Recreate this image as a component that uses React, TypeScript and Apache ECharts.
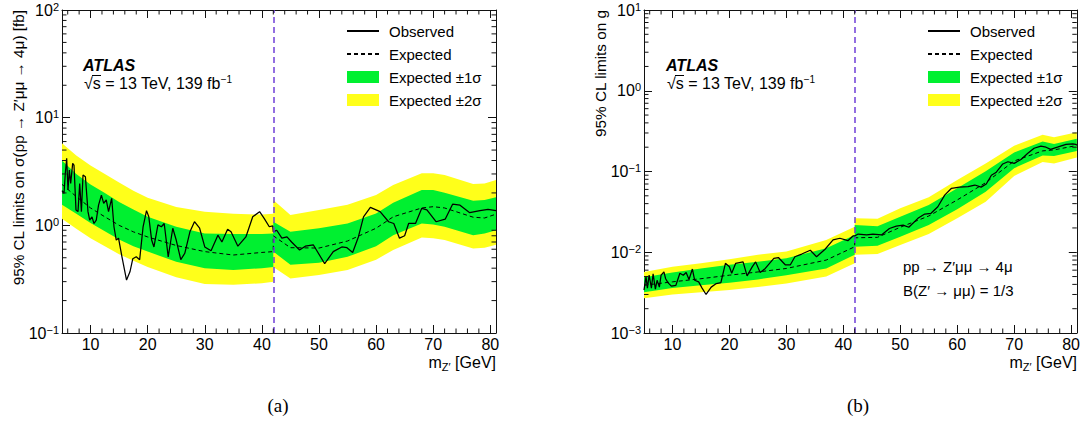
import React, { useEffect, useRef } from 'react';
import * as echarts from 'echarts';

const FONT = 'Liberation Sans, Arial, Helvetica, sans-serif';
const GREEN = '#00f030';
const YELLOW = '#ffff1a';
const CUT_COLOR = '#6f3fd8';
const CUT_MASS = 42;
const X_MIN = 5;
const X_MAX = 81;

const xTickValues = [10, 20, 30, 40, 50, 60, 70, 80];
const xMinorTicks = [6, 8, 12, 14, 16, 18, 22, 24, 26, 28, 32, 34, 36, 38, 42, 44, 46, 48, 52, 54, 56, 58, 62, 64, 66, 68, 72, 74, 76, 78];

// ---------- Panel (a): cross-section limits [fb] ----------
const massA = [5, 7.5, 10, 12.5, 15, 17.5, 20, 25, 30, 35, 40, 42, 42, 45, 50, 55, 60, 63, 68, 70, 72, 77, 79, 81];
const expA = [2.4, 1.85, 1.45, 1.2, 1.0, 0.87, 0.78, 0.65, 0.57, 0.53, 0.56, 0.57, 0.8, 0.62, 0.615, 0.715, 0.94, 1.2, 1.45, 1.49, 1.45, 1.19, 1.17, 1.27];
const up1A = [4.0, 3.0, 2.4, 2.0, 1.65, 1.4, 1.2, 0.97, 0.84, 0.83, 0.83, 0.84, 1.08, 0.87, 0.94, 1.04, 1.29, 1.62, 2.13, 2.13, 2.01, 1.69, 1.72, 1.82];
const dn1A = [1.55, 1.28, 1.05, 0.88, 0.74, 0.64, 0.57, 0.46, 0.4, 0.385, 0.4, 0.41, 0.57, 0.43, 0.45, 0.51, 0.64, 0.81, 1.04, 1.02, 0.97, 0.81, 0.84, 0.9];
const up2A = [5.8, 4.45, 3.6, 3.0, 2.5, 2.1, 1.8, 1.48, 1.34, 1.28, 1.26, 1.28, 1.72, 1.25, 1.39, 1.55, 1.91, 2.37, 3.04, 3.04, 2.93, 2.42, 2.45, 2.64];
const dn2A = [1.15, 0.93, 0.76, 0.64, 0.54, 0.47, 0.41, 0.33, 0.285, 0.28, 0.29, 0.3, 0.41, 0.32, 0.345, 0.385, 0.48, 0.59, 0.77, 0.76, 0.73, 0.61, 0.62, 0.66];
const obsMassA = [5.0, 5.35, 5.58, 5.82, 6.05, 6.28, 6.52, 6.87, 7.1, 7.45, 7.8, 8.1, 8.4, 8.68, 9.1, 9.55, 9.85, 10.25, 10.6, 11.0, 11.4, 11.9, 12.3, 12.75, 13.15, 13.7, 14.1, 14.5, 14.9, 15.5, 16.3, 16.9, 17.4, 18.0, 18.6, 19.2, 19.8, 20.2, 20.7, 21.1, 21.8, 22.4, 22.9, 23.6, 24.4, 25.0, 25.8, 26.5, 27.4, 28.2, 29.1, 30.0, 31.1, 32.3, 33.0, 34.0, 34.6, 35.8, 37.2, 38.4, 39.6, 40.4, 41.3, 41.9, 42.0, 42.6, 43.5, 44.4, 45.2, 46.6, 47.6, 49.0, 51.0, 52.5, 54.0, 54.9, 55.9, 56.9, 57.8, 59.0, 60.7, 62.2, 63.1, 64.1, 65.0, 65.7, 66.9, 68.0, 68.9, 70.5, 72.1, 73.4, 74.7, 76.4, 78.2, 79.6, 81.0];
const obsValA = [2.1, 1.98, 3.04, 4.19, 2.13, 3.26, 2.45, 3.76, 3.63, 1.39, 1.34, 2.45, 1.34, 2.93, 2.83, 1.34, 1.12, 1.2, 1.04, 1.12, 1.54, 1.91, 1.6, 1.72, 1.34, 1.78, 0.97, 0.73, 0.76, 0.51, 0.31, 0.37, 0.49, 0.51, 0.48, 0.97, 1.37, 1.2, 0.73, 0.63, 1.01, 0.97, 1.04, 0.51, 0.94, 0.73, 0.48, 0.55, 0.87, 1.08, 0.94, 0.63, 0.58, 0.81, 0.7, 0.92, 0.87, 0.64, 0.78, 1.2, 1.34, 1.16, 0.97, 0.99, 0.87, 0.9, 0.76, 0.78, 0.7, 0.59, 0.64, 0.66, 0.44, 0.57, 0.63, 0.62, 0.56, 0.78, 1.2, 1.47, 1.34, 1.08, 1.04, 0.76, 0.8, 1.04, 1.04, 1.44, 1.39, 1.08, 1.14, 1.57, 1.54, 1.31, 1.37, 1.41, 1.37];

// ---------- Panel (b): coupling limits g ----------
const massB = [5, 10, 15, 20, 25, 30, 37, 42, 42, 46, 50, 55, 60, 65, 70, 75, 77, 81];
const expB = [0.0039, 0.0043, 0.0047, 0.0052, 0.0057, 0.0063, 0.008, 0.0117, 0.0151, 0.0153, 0.0204, 0.0281, 0.0444, 0.0727, 0.135, 0.18, 0.185, 0.21];
const up1B = [0.0049, 0.0056, 0.0063, 0.007, 0.0076, 0.0084, 0.0112, 0.0164, 0.0217, 0.021, 0.0275, 0.0385, 0.062, 0.101, 0.172, 0.235, 0.219, 0.254];
const dn1B = [0.0032, 0.0036, 0.0039, 0.0042, 0.0046, 0.0052, 0.0063, 0.0093, 0.0117, 0.012, 0.0156, 0.0217, 0.034, 0.0562, 0.11, 0.158, 0.156, 0.18];
const up2B = [0.0057, 0.0066, 0.0073, 0.0082, 0.0093, 0.0102, 0.0142, 0.0207, 0.0263, 0.026, 0.035, 0.048, 0.0785, 0.126, 0.208, 0.286, 0.265, 0.307];
const dn2B = [0.0027, 0.003, 0.0032, 0.0034, 0.0037, 0.0041, 0.005, 0.0073, 0.0093, 0.0095, 0.0123, 0.0168, 0.0263, 0.0423, 0.088, 0.131, 0.126, 0.149];
const obsMassB = [5, 5.35, 5.6, 5.9, 6.3, 6.6, 7.0, 7.3, 7.7, 8.0, 8.5, 8.8, 9.2, 9.8, 10.6, 11.3, 11.9, 12.4, 12.9, 13.5, 13.9, 14.6, 15.2, 15.9, 16.8, 17.7, 18.5, 19.3, 20.0, 20.4, 21.1, 22.4, 23.1, 24.0, 24.6, 25.4, 26.3, 27.8, 28.6, 29.8, 30.7, 31.5, 32.7, 34.2, 35.3, 36.8, 38.2, 39.4, 40.8, 41.7, 42.0, 42.6, 44.1, 45.2, 46.7, 48.1, 49.3, 50.5, 51.5, 53.1, 54.3, 55.4, 56.6, 57.8, 59.0, 60.4, 61.9, 63.1, 64.2, 65.1, 66.0, 66.8, 68.0, 68.9, 70.0, 71.2, 72.4, 73.5, 74.7, 75.6, 76.4, 77.6, 79.1, 80.3, 81.0];
const obsValB = [0.0034, 0.005, 0.0036, 0.0052, 0.0036, 0.0054, 0.0035, 0.0045, 0.0037, 0.0052, 0.0057, 0.0047, 0.0042, 0.0038, 0.0039, 0.0055, 0.0052, 0.0056, 0.0046, 0.0062, 0.0045, 0.0043, 0.0036, 0.003, 0.0037, 0.0041, 0.0042, 0.0073, 0.0066, 0.0055, 0.0073, 0.0076, 0.0051, 0.0066, 0.0076, 0.0056, 0.0063, 0.0084, 0.0086, 0.007, 0.007, 0.0088, 0.0095, 0.0106, 0.0088, 0.0109, 0.0142, 0.0149, 0.0139, 0.0159, 0.0159, 0.0168, 0.0164, 0.0168, 0.0164, 0.0197, 0.0211, 0.0217, 0.0204, 0.0263, 0.0297, 0.0304, 0.0366, 0.051, 0.062, 0.064, 0.065, 0.068, 0.064, 0.07, 0.09, 0.097, 0.124, 0.132, 0.126, 0.141, 0.168, 0.194, 0.206, 0.2, 0.188, 0.2, 0.217, 0.22, 0.215];

const legendNames = ['Observed', 'Expected', 'Expected ±1σ', 'Expected ±2σ'];

function logMinorTicks(minExp: number, maxExp: number): number[] {
  const out: number[] = [];
  for (let e = minExp; e < maxExp; e++) {
    for (let k = 2; k <= 9; k++) out.push(k * Math.pow(10, e));
  }
  return out;
}

const zip = (a: number[], b: number[]) => a.map((v, i) => [v, b[i]]);

function bandSeries(name: string, xs: number[], lo: number[], hi: number[], color: string, xi: number, yi: number, z: number) {
  return {
    type: 'custom',
    name,
    xAxisIndex: xi,
    yAxisIndex: yi,
    silent: true,
    z,
    clip: true,
    itemStyle: { color },
    data: [[xs[0], lo[0]]],
    renderItem: (_p: any, api: any) => {
      const pts: number[][] = [];
      for (let i = 0; i < xs.length; i++) pts.push(api.coord([xs[i], hi[i]]));
      for (let i = xs.length - 1; i >= 0; i--) pts.push(api.coord([xs[i], lo[i]]));
      return { type: 'polygon', shape: { points: pts }, style: { fill: color, stroke: null } };
    },
  };
}

function minorTickSeries(xi: number, yi: number, yMin: number, yMinor: number[]) {
  return {
    type: 'custom',
    xAxisIndex: xi,
    yAxisIndex: yi,
    silent: true,
    clip: false,
    z: 10,
    data: [[X_MIN, yMin]],
    renderItem: (params: any, api: any) => {
      const cs = params.coordSys;
      const children: any[] = [];
      const st = { stroke: '#111', lineWidth: 1 };
      const L = 4.5;
      yMinor.forEach((v) => {
        const y = api.coord([X_MIN, v])[1];
        children.push({ type: 'line', shape: { x1: cs.x, y1: y, x2: cs.x + L, y2: y }, style: st });
        children.push({ type: 'line', shape: { x1: cs.x + cs.width, y1: y, x2: cs.x + cs.width - L, y2: y }, style: st });
      });
      xMinorTicks.forEach((m) => {
        const x = api.coord([m, yMin])[0];
        children.push({ type: 'line', shape: { x1: x, y1: cs.y + cs.height, x2: x, y2: cs.y + cs.height - L }, style: st });
        children.push({ type: 'line', shape: { x1: x, y1: cs.y, x2: x, y2: cs.y + L }, style: st });
      });
      return { type: 'group', children };
    },
  };
}

const logLabel = (v: number) => {
  const e = Math.round(Math.log10(v));
  return `{b|10}{s|${e < 0 ? '\u2212' + -e : e}}`;
};

const tickRich = {
  b: { fontSize: 16, lineHeight: 18, fontFamily: FONT, color: '#000' },
  s: { fontSize: 11, lineHeight: 11, verticalAlign: 'top', fontFamily: FONT, color: '#000' },
};

function xAxes(grid: number) {
  const base = {
    type: 'value',
    gridIndex: grid,
    min: X_MIN,
    max: X_MAX,
    splitLine: { show: false },
    axisLine: { show: true, onZero: false, lineStyle: { color: '#111', width: 1 } },
    axisTick: { show: true, inside: true, length: 8, customValues: xTickValues, lineStyle: { color: '#111' } },
  };
  return [
    { ...base, position: 'bottom', axisLabel: { show: true, customValues: xTickValues, fontSize: 16, color: '#000', fontFamily: FONT, margin: 3 } },
    { ...base, position: 'top', axisLabel: { show: false } },
  ];
}

function yAxes(grid: number, min: number, max: number) {
  const base = {
    type: 'log',
    logBase: 10,
    gridIndex: grid,
    min,
    max,
    splitLine: { show: false },
    minorTick: { show: false },
    axisLine: { show: true, onZero: false, lineStyle: { color: '#111', width: 1 } },
    axisTick: { show: true, inside: true, length: 8, lineStyle: { color: '#111' } },
  };
  return [
    { ...base, position: 'left', axisLabel: { show: true, margin: 3, formatter: logLabel, rich: tickRich } },
    { ...base, position: 'right', axisLabel: { show: false } },
  ];
}

function panelSeries(grid: number, xs: number[], exp: number[], u1: number[], d1: number[], u2: number[], d2: number[], om: number[], ov: number[], yMin: number, yMinor: number[]) {
  const xi = grid * 2;
  const yi = grid * 2;
  return [
    bandSeries('Expected ±2σ', xs, d2, u2, YELLOW, xi, yi, 1),
    bandSeries('Expected ±1σ', xs, d1, u1, GREEN, xi, yi, 2),
    {
      type: 'line', name: 'Expected', xAxisIndex: xi, yAxisIndex: yi, z: 3,
      data: zip(xs, exp), symbol: 'none', silent: true,
      lineStyle: { color: '#000', width: 1, type: [4, 3] },
      itemStyle: { color: '#000' },
    },
    {
      type: 'line', name: 'Observed', xAxisIndex: xi, yAxisIndex: yi, z: 4,
      data: zip(om, ov), symbol: 'none', silent: true,
      lineStyle: { color: '#000', width: 1.25 },
      itemStyle: { color: '#000' },
      markLine: {
        silent: true, symbol: ['none', 'none'], animation: false,
        label: { show: false },
        lineStyle: { color: CUT_COLOR, width: 1.5, type: [6, 4] },
        data: [{ xAxis: CUT_MASS }],
      },
    },
    minorTickSeries(xi, yi, yMin, yMinor),
  ];
}

const hiddenSymbol = { color: 'rgba(0,0,0,0)', borderColor: 'rgba(0,0,0,0)', borderWidth: 0, opacity: 0 };

function legendAt(left: number) {
  return {
    left, top: 18, orient: 'vertical', itemWidth: 32, itemHeight: 12, itemGap: 7,
    selectedMode: false,
    data: [
      { name: legendNames[0], itemStyle: hiddenSymbol },
      { name: legendNames[1], itemStyle: hiddenSymbol },
      { name: legendNames[2], icon: 'rect' },
      { name: legendNames[3], icon: 'rect' },
    ],
    textStyle: { fontSize: 15, fontFamily: FONT, color: '#000', lineHeight: 16, padding: [0, 0, 0, 5] },
  };
}

function text(x: number, y: number, t: string, extra: any = {}) {
  return {
    type: 'text', x, y, silent: true,
    style: { text: t, fontSize: 15, fontFamily: FONT, fill: '#000', textAlign: 'left', align: 'left', textVerticalAlign: 'middle', verticalAlign: 'middle', ...extra },
  };
}

const supRich = {
  t: { fontSize: 16, lineHeight: 18, fontFamily: FONT, fill: '#000', color: '#000' },
  s: { fontSize: 10, lineHeight: 10, verticalAlign: 'top', fontFamily: FONT, fill: '#000', color: '#000' },
};
const subRich = {
  m: { fontSize: 16, lineHeight: 20, fontFamily: FONT, fill: '#000', color: '#000' },
  z: { fontSize: 11, lineHeight: 11, verticalAlign: 'bottom', fontFamily: FONT, fill: '#000', color: '#000' },
};

function atlasBlock(x: number) {
  return [
    text(x, 65, 'ATLAS', { fontSize: 16, fontWeight: 'bold', fontStyle: 'italic' }),
    text(x + 1, 83, '{t|\u221As = 13 TeV, 139 fb}{s|\u22121}', { rich: supRich }),
    { type: 'line', silent: true, shape: { x1: x + 9, y1: 75.5, x2: x + 18, y2: 75.5 }, style: { stroke: '#000', lineWidth: 1 } },
  ];
}

function yName(x: number, t: string) {
  return {
    type: 'text', x, y: 10, rotation: Math.PI / 2, silent: true,
    style: { text: t, fontSize: 15.3, fontFamily: FONT, fill: '#000', textAlign: 'right', align: 'right', textVerticalAlign: 'middle', verticalAlign: 'middle' },
  };
}

function xName(xRight: number) {
  return text(xRight, 362, '{m|m}{z|Z\u2032}{m| [GeV]}', { rich: subRich, textAlign: 'right', align: 'right' });
}

export default function App() {
  const ref = useRef<HTMLDivElement>(null);
  useEffect(() => {
    if (!ref.current) return;
    const chart = echarts.init(ref.current, null, { renderer: 'svg' });
    const option: any = {
      animation: false,
      textStyle: { fontFamily: FONT },
      grid: [
        { left: 62, top: 10, width: 434, height: 323 },
        { left: 644, top: 10, width: 433, height: 323 },
      ],
      xAxis: [...xAxes(0), ...xAxes(1)],
      yAxis: [...yAxes(0, 0.1, 100), ...yAxes(1, 0.001, 10)],
      legend: [legendAt(341), legendAt(922)],
      series: [
        ...panelSeries(0, massA, expA, up1A, dn1A, up2A, dn2A, obsMassA, obsValA, 0.1, logMinorTicks(-1, 2)),
        ...panelSeries(1, massB, expB, up1B, dn1B, up2B, dn2B, obsMassB, obsValB, 0.001, logMinorTicks(-3, 1)),
      ],
      graphic: [
        ...atlasBlock(83),
        ...atlasBlock(666),
        yName(18, '95% CL limits on \u03C3(pp \u2192 Z\u2032\u03BC\u03BC \u2192 4\u03BC) [fb]'),
        yName(600, '95% CL limits on g'),
        xName(496),
        xName(1077),
        text(903, 266, 'pp \u2192 Z\u2032\u03BC\u03BC \u2192 4\u03BC'),
        text(903, 290, 'B(Z\u2032 \u2192 \u03BC\u03BC) = 1/3'),
        text(278, 405, '(a)', { fontFamily: 'Liberation Serif, Times New Roman, serif', fontSize: 19, textAlign: 'center', align: 'center' }),
        text(858, 405, '(b)', { fontFamily: 'Liberation Serif, Times New Roman, serif', fontSize: 19, textAlign: 'center', align: 'center' }),
      ],
    };
    chart.setOption(option);
    return () => chart.dispose();
  }, []);
  return <div ref={ref} style={{ position: 'fixed', left: 0, top: 0, width: 1083, height: 424, background: '#fff' }} />;
}
